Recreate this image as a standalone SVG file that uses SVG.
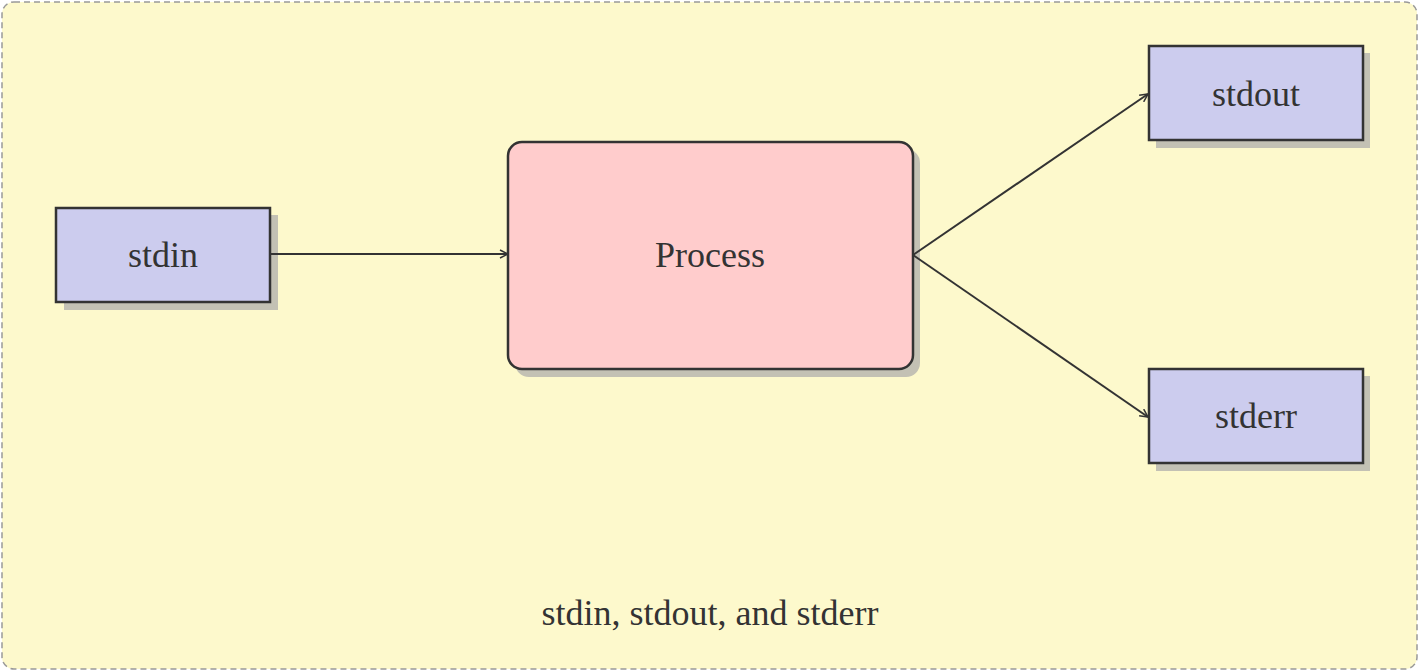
<svg xmlns="http://www.w3.org/2000/svg" width="1420" height="672" viewBox="0 0 1420 672">
<style>
.lbl{font-family:"Liberation Serif","Times New Roman",serif;font-size:36px;fill:#333;text-anchor:middle}
.io{fill:#ccccee;stroke:#333;stroke-width:2.5}
.shadow{fill:#aaa;opacity:0.7}
.conn{stroke:#333;stroke-width:2;fill:none;marker-end:url(#arr)}
</style>
<defs>
<marker id="arr" viewBox="0 0 10 10" refX="9" refY="5" markerWidth="10" markerHeight="10" markerUnits="userSpaceOnUse" orient="auto">
<path d="M1,1 L9,5 L1,9" fill="none" stroke="#333" stroke-width="1.5"/>
</marker>
</defs>
<rect x="2" y="2" width="1415" height="667" rx="12" fill="#fdf9cc" stroke="#999" stroke-width="1.5" stroke-dasharray="6,4"/>
<g id="stdin">
<rect class="shadow" x="64" y="215" width="214" height="95"/>
<rect class="io" x="56" y="208" width="214" height="94"/>
<text class="lbl" x="163" y="267">stdin</text>
</g>
<g id="process">
<rect class="shadow" x="515" y="149" width="405" height="228" rx="14"/>
<rect x="508" y="142" width="405" height="227" rx="14" fill="#ffcccc" stroke="#333" stroke-width="2.5"/>
<text class="lbl" x="710" y="267">Process</text>
</g>
<g id="stdout">
<rect class="shadow" x="1156" y="53" width="214" height="95"/>
<rect class="io" x="1149" y="46" width="214" height="94"/>
<text class="lbl" x="1256" y="106">stdout</text>
</g>
<g id="stderr">
<rect class="shadow" x="1156" y="376" width="214" height="95"/>
<rect class="io" x="1149" y="369" width="214" height="94"/>
<text class="lbl" x="1256" y="428">stderr</text>
</g>
<g id="connectors">
<line class="conn" x1="271" y1="254" x2="508" y2="254"/>
<line class="conn" x1="913" y1="255" x2="1148" y2="94"/>
<line class="conn" x1="913" y1="255" x2="1148" y2="417"/>
</g>
<text class="lbl" x="710" y="625">stdin, stdout, and stderr</text>
</svg>
